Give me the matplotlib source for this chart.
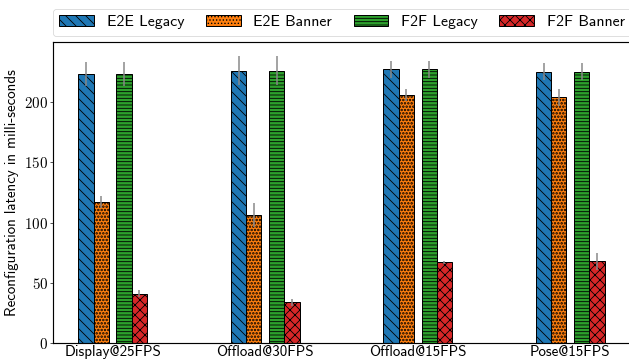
import numpy as np
import matplotlib
matplotlib.use('Agg')
import matplotlib.pyplot as plt

# workloads and latency measurements (ms)
workloads = ['Display@25FPS', 'Offload@30FPS', 'Offload@15FPS', 'Pose@15FPS']
series = ['E2E Legacy', 'E2E Banner', 'F2F Legacy', 'F2F Banner']

e2e_legacy = [223, 226, 227, 225]
e2e_banner = [117, 106, 206, 204]
f2f_legacy = [223, 226, 227, 225]
f2f_banner = [41, 34, 67, 68]

e2e_legacy_err = [10, 12, 7, 7]
e2e_banner_err = [5, 10, 5, 7]
f2f_legacy_err = [10, 12, 7, 7]
f2f_banner_err = [3, 3, 1, 7]

colors = ['#1f77b4', '#ff7f0e', '#2ca02c', '#d62728']
hatches = ['\\\\', '...', '---', 'xx']
hatch_widths = [1.0, 2.0, 1.0, 1.0]
offsets = [-0.175, -0.075, 0.075, 0.175]
width = 0.1

plt.rcParams['axes.linewidth'] = 1.4
plt.rcParams['axes.formatter.use_mathtext'] = True

sans = 'cmss10'
serif = 'cmr10'

fig = plt.figure(figsize=(629 / 60, 364 / 60), dpi=60)
ax = fig.add_axes([0.0838, 0.0569, 0.9199, 0.8285])

x = np.arange(len(workloads))
values = [e2e_legacy, e2e_banner, f2f_legacy, f2f_banner]
errors = [e2e_legacy_err, e2e_banner_err, f2f_legacy_err, f2f_banner_err]

for i in range(4):
    # hatch line width is picked up when the patches are created
    plt.rcParams['hatch.linewidth'] = hatch_widths[i]
    ax.bar(x + offsets[i], values[i], width, yerr=errors[i], label=series[i],
           color=colors[i], edgecolor='black', linewidth=1.2, hatch=hatches[i],
           error_kw=dict(ecolor='#888888', elinewidth=1.8, capsize=0))

ax.set_xlim(-0.393, 3.4)
ax.set_ylim(0, 250)
ax.set_yticks([0, 50, 100, 150, 200])
ax.set_xticks(x)
ax.set_xticklabels(workloads, fontfamily=sans, fontsize=18)
for lbl in ax.get_yticklabels():
    lbl.set_fontfamily(serif)
    lbl.set_fontsize(18)
ax.tick_params(axis='x', length=0, pad=2)
ax.tick_params(axis='y', length=3.5, pad=2)

ax.set_ylabel('Reconfiguration latency in milli-seconds', fontfamily=sans, fontsize=18, labelpad=6)

ax.legend(bbox_to_anchor=(0, 1.02, 1, 0.2), loc='lower left', mode='expand', ncol=4,
          prop={'family': sans, 'size': 19}, handlelength=2.2, borderaxespad=0,
          fancybox=True, edgecolor='#d0d0d0')

fig.savefig('out.png', dpi=60)
